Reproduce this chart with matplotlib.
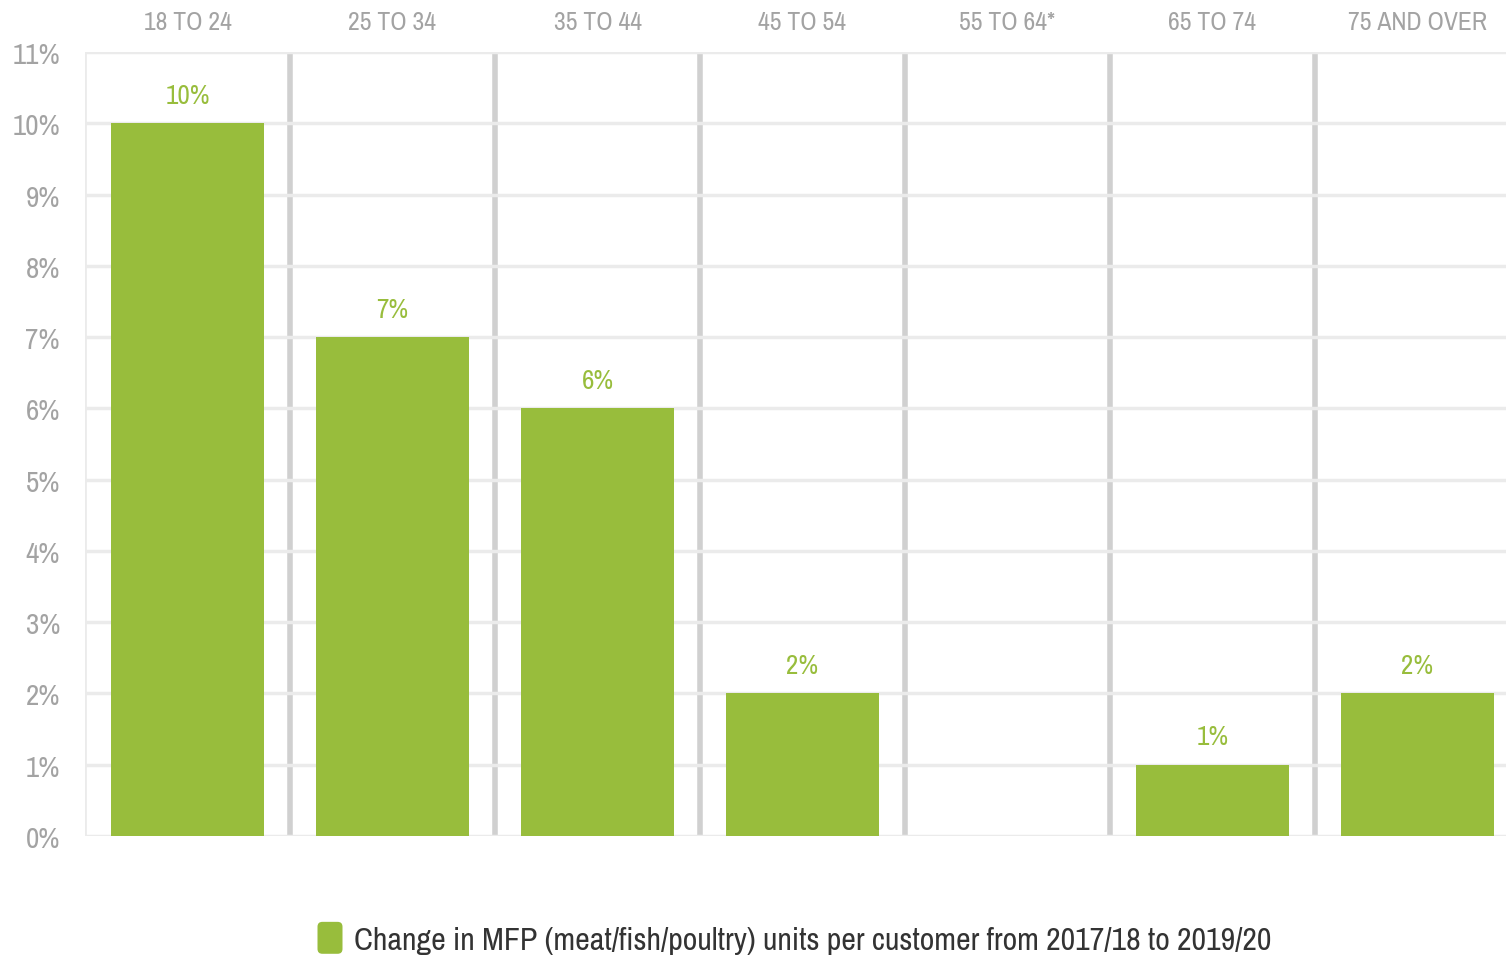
import matplotlib.pyplot as plt
from matplotlib import font_manager
from matplotlib.patches import FancyBboxPatch
from matplotlib.legend_handler import HandlerPatch

# datos
grupos = ['18 TO 24', '25 TO 34', '35 TO 44', '45 TO 54', '55 TO 64*', '65 TO 74', '75 AND OVER']
cambio = [10, 7, 6, 2, None, 1, 2]
etiquetas = ['10%', '7%', '6%', '2%', '', '1%', '2%']
leyenda = 'Change in MFP (meat/fish/poultry) units per customer from 2017/18 to 2019/20'

VERDE = '#98bd3c'
GRIS = '#a3a3a3'

# buscar una fuente estrecha si hay
estrecha = None
for f in font_manager.fontManager.ttflist:
    if ('Condensed' in f.name or 'Narrow' in f.name) and f.weight in (400, 'normal', 'regular'):
        estrecha = f.name
        break
if estrecha is None:
    for f in font_manager.fontManager.ttflist:
        if f.stretch in ('condensed', 'semi-condensed', 'extra-condensed', 500, 375, 300) \
                or 'Condensed' in f.fname:
            estrecha = f.name
            break
if estrecha is not None:
    plt.rcParams['font.family'] = [estrecha, 'DejaVu Sans']
    plt.rcParams['font.stretch'] = 'condensed'
    escala = 1.0
else:
    plt.rcParams['font.family'] = ['Roboto', 'DejaVu Sans']
    escala = 0.8

fig = plt.figure(figsize=(15.06, 9.62), dpi=100)
ax = fig.add_axes([85 / 1506, 1 - 837 / 962, (1506 - 85) / 1506, (837 - 53) / 962])

x = list(range(len(grupos)))
alturas = [v if v is not None else 0 for v in cambio]
barras = ax.bar(x, alturas, width=0.75, color=VERDE, zorder=3,
                label=leyenda)

for xi, v, t in zip(x, cambio, etiquetas):
    if v is not None:
        ax.text(xi, v + 0.39, t, ha='center', va='center', color=VERDE,
                fontsize=19.5 * escala, fontweight='bold')

ax.set_ylim(0, 11)
ax.set_xlim(-0.5, 6.5 - 14 / 205)
ax.set_yticks(range(12))
ax.set_yticklabels([f'{i}%' for i in range(12)])
ax.tick_params(axis='y', length=0, pad=18, labelsize=21 * escala, labelcolor=GRIS)
ax.grid(axis='y', color='#ebebeb', linewidth=2.5, zorder=0)

# separadores entre grupos
ax.axvline(-0.5, color='#ebebeb', linewidth=2, zorder=1)
for s in x[:-1]:
    ax.axvline(s + 0.5, color='#d0d0d0', linewidth=4, zorder=1)

ax.xaxis.tick_top()
ax.set_xticks(x)
ax.set_xticklabels(grupos)
ax.tick_params(axis='x', length=0, pad=14, labelsize=18.5 * escala, labelcolor=GRIS)

for lado in ax.spines.values():
    lado.set_visible(False)


class Redondo(HandlerPatch):
    def create_artists(self, legend, orig_handle, xdescent, ydescent,
                       width, height, fontsize, trans):
        p = FancyBboxPatch((-xdescent + width - 18, -ydescent + height / 2 - 11.5),
                           18, 23,
                           boxstyle='round,pad=0,rounding_size=3.5',
                           facecolor=VERDE, edgecolor='none', transform=trans)
        return [p]


fig.legend(handles=[barras.patches[0]], labels=[leyenda], loc='center',
           bbox_to_anchor=(794 / 1506, 1 - 941 / 962), frameon=False,
           fontsize=23 * escala, labelcolor='#333333', handlelength=0.8,
           handletextpad=0.35, handler_map={barras.patches[0].__class__: Redondo()})

fig.savefig('out.png', dpi=100)
